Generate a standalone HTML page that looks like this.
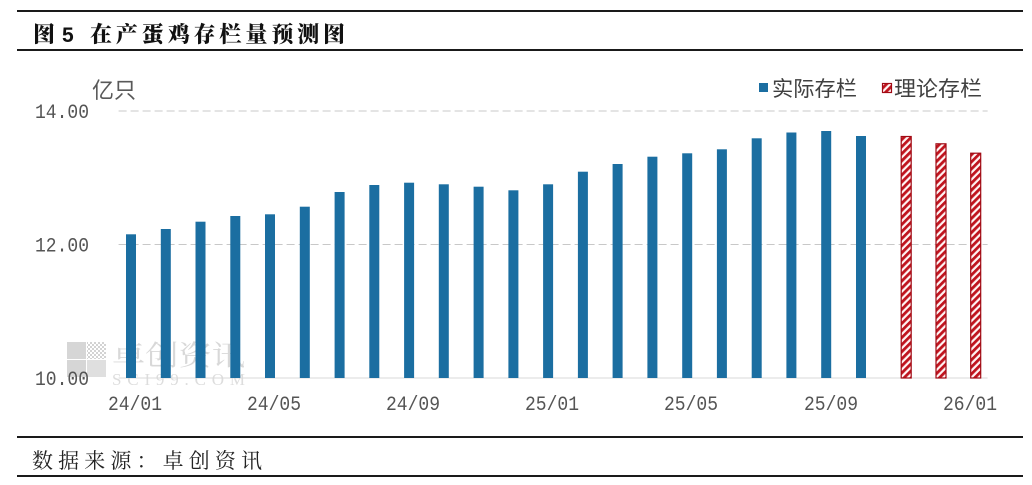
<!DOCTYPE html>
<html>
<head>
<meta charset="utf-8">
<style>
html,body{margin:0;padding:0;background:#fff;}
svg{display:block;}
</style>
</head>
<body>
<svg width="1032" height="485" viewBox="0 0 1032 485" xmlns="http://www.w3.org/2000/svg">
<defs>
<pattern id="hatch" patternUnits="userSpaceOnUse" width="5" height="5" patternTransform="rotate(45)">
<rect x="0" y="0" width="5" height="5" fill="#fff4f4"/>
<rect x="0" y="0" width="2.8" height="5" fill="#C0141E"/>
</pattern>
<pattern id="chk" patternUnits="userSpaceOnUse" width="4" height="4">
<rect x="0" y="0" width="2" height="2" fill="#cfcfcf"/>
<rect x="2" y="2" width="2" height="2" fill="#cfcfcf"/>
</pattern>
</defs>

<!-- frame lines -->
<rect x="17" y="10" width="1006" height="2" fill="#1a1a1a"/>
<rect x="17" y="49" width="1006" height="2" fill="#1a1a1a"/>
<rect x="17" y="436" width="1006" height="2" fill="#1a1a1a"/>
<rect x="17" y="475" width="1006" height="2" fill="#1a1a1a"/>

<!-- title -->
<text x="33" y="42" font-family="'Noto Serif CJK SC','Noto Sans CJK SC',serif" font-weight="900" font-size="22" fill="#111">图</text>
<text x="62" y="42" font-family="'Liberation Sans',sans-serif" font-weight="700" font-size="21" fill="#111">5</text>
<text x="90" y="42" font-family="'Liberation Serif','Noto Serif CJK SC',serif" font-weight="900" font-size="22" fill="#111" textLength="255" lengthAdjust="spacing">在产蛋鸡存栏量预测图</text>

<!-- footer -->
<text x="32" y="468" font-family="'Liberation Serif','Noto Serif CJK SC',serif" font-size="21" fill="#222" textLength="230" lengthAdjust="spacing">数据来源：卓创资讯</text>

<!-- watermark -->
<g opacity="0.9">
<rect x="67" y="342" width="19" height="17" fill="#d2d2d2"/>
<rect x="87" y="342" width="19" height="17" fill="url(#chk)"/>
<rect x="67" y="360" width="19" height="17" fill="#d2d2d2"/>
<rect x="87" y="360" width="19" height="17" fill="#dcdcdc"/>
<text x="112" y="365" font-family="'Liberation Serif','Noto Serif CJK SC',serif" font-size="28" fill="#d4d4d4" textLength="133" lengthAdjust="spacingAndGlyphs">卓创资讯</text>
<text x="112" y="385" font-family="'Liberation Serif',serif" font-size="17" fill="#dadada" textLength="133" lengthAdjust="spacing">SCI99.COM</text>
</g>

<!-- gridlines -->
<line x1="118.6" y1="111" x2="987.6" y2="111" stroke="#C8C8C8" stroke-width="1" stroke-dasharray="8,4"/>
<line x1="118.6" y1="244.5" x2="987.6" y2="244.5" stroke="#C8C8C8" stroke-width="1" stroke-dasharray="8,4"/>
<line x1="118.6" y1="378" x2="987.6" y2="378" stroke="#D9D9D9" stroke-width="1"/>

<!-- y labels -->
<g font-family="'Liberation Mono',monospace" font-size="20" fill="#555">
<text x="35" y="118" textLength="54" lengthAdjust="spacingAndGlyphs">14.00</text>
<text x="35" y="251.5" textLength="54" lengthAdjust="spacingAndGlyphs">12.00</text>
<text x="35" y="385" textLength="54" lengthAdjust="spacingAndGlyphs">10.00</text>
</g>
<text x="92" y="98" font-family="'Liberation Sans','Noto Sans CJK SC',sans-serif" font-size="22" fill="#595959">亿只</text>

<!-- x labels -->
<g font-family="'Liberation Mono',monospace" font-size="20" fill="#555">
<text x="108" y="410" textLength="54" lengthAdjust="spacingAndGlyphs">24/01</text>
<text x="247" y="410" textLength="54" lengthAdjust="spacingAndGlyphs">24/05</text>
<text x="386" y="410" textLength="54" lengthAdjust="spacingAndGlyphs">24/09</text>
<text x="525" y="410" textLength="54" lengthAdjust="spacingAndGlyphs">25/01</text>
<text x="664" y="410" textLength="54" lengthAdjust="spacingAndGlyphs">25/05</text>
<text x="804" y="410" textLength="54" lengthAdjust="spacingAndGlyphs">25/09</text>
<text x="943" y="410" textLength="54" lengthAdjust="spacingAndGlyphs">26/01</text>
</g>

<!-- actual bars -->
<g fill="#1B6EA1">
<rect x="126.0" y="234.3" width="10" height="143.7"/>
<rect x="160.8" y="229.0" width="10" height="149.0"/>
<rect x="195.5" y="221.7" width="10" height="156.3"/>
<rect x="230.3" y="216.0" width="10" height="162.0"/>
<rect x="265.0" y="214.3" width="10" height="163.7"/>
<rect x="299.8" y="206.7" width="10" height="171.3"/>
<rect x="334.6" y="192.0" width="10" height="186.0"/>
<rect x="369.3" y="185.0" width="10" height="193.0"/>
<rect x="404.1" y="182.7" width="10" height="195.3"/>
<rect x="438.8" y="184.3" width="10" height="193.7"/>
<rect x="473.6" y="186.7" width="10" height="191.3"/>
<rect x="508.4" y="190.3" width="10" height="187.7"/>
<rect x="543.1" y="184.3" width="10" height="193.7"/>
<rect x="577.9" y="171.7" width="10" height="206.3"/>
<rect x="612.6" y="164.0" width="10" height="214.0"/>
<rect x="647.4" y="156.7" width="10" height="221.3"/>
<rect x="682.2" y="153.3" width="10" height="224.7"/>
<rect x="716.9" y="149.3" width="10" height="228.7"/>
<rect x="751.7" y="138.3" width="10" height="239.7"/>
<rect x="786.4" y="132.5" width="10" height="245.5"/>
<rect x="821.2" y="131.0" width="10" height="247.0"/>
<rect x="856.0" y="136.0" width="10" height="242.0"/>
</g>

<!-- forecast bars -->
<g fill="url(#hatch)" stroke="#A00A14" stroke-width="1.2">
<rect x="901.2" y="136.5" width="10" height="241.5"/>
<rect x="936.0" y="143.8" width="10" height="234.2"/>
<rect x="970.7" y="153.2" width="10" height="224.8"/>
</g>

<!-- legend -->
<rect x="759" y="83" width="9" height="9" fill="#1B6EA1"/>
<text x="772" y="96" font-family="'Liberation Sans','Noto Sans CJK SC',sans-serif" font-size="21" fill="#404040" textLength="85" lengthAdjust="spacingAndGlyphs">实际存栏</text>
<rect x="882.5" y="83.5" width="9" height="9" fill="url(#hatch)" stroke="#A00A14" stroke-width="1.2"/>
<text x="894" y="96" font-family="'Liberation Sans','Noto Sans CJK SC',sans-serif" font-size="21" fill="#404040" textLength="88" lengthAdjust="spacingAndGlyphs">理论存栏</text>
</svg>
</body>
</html>
